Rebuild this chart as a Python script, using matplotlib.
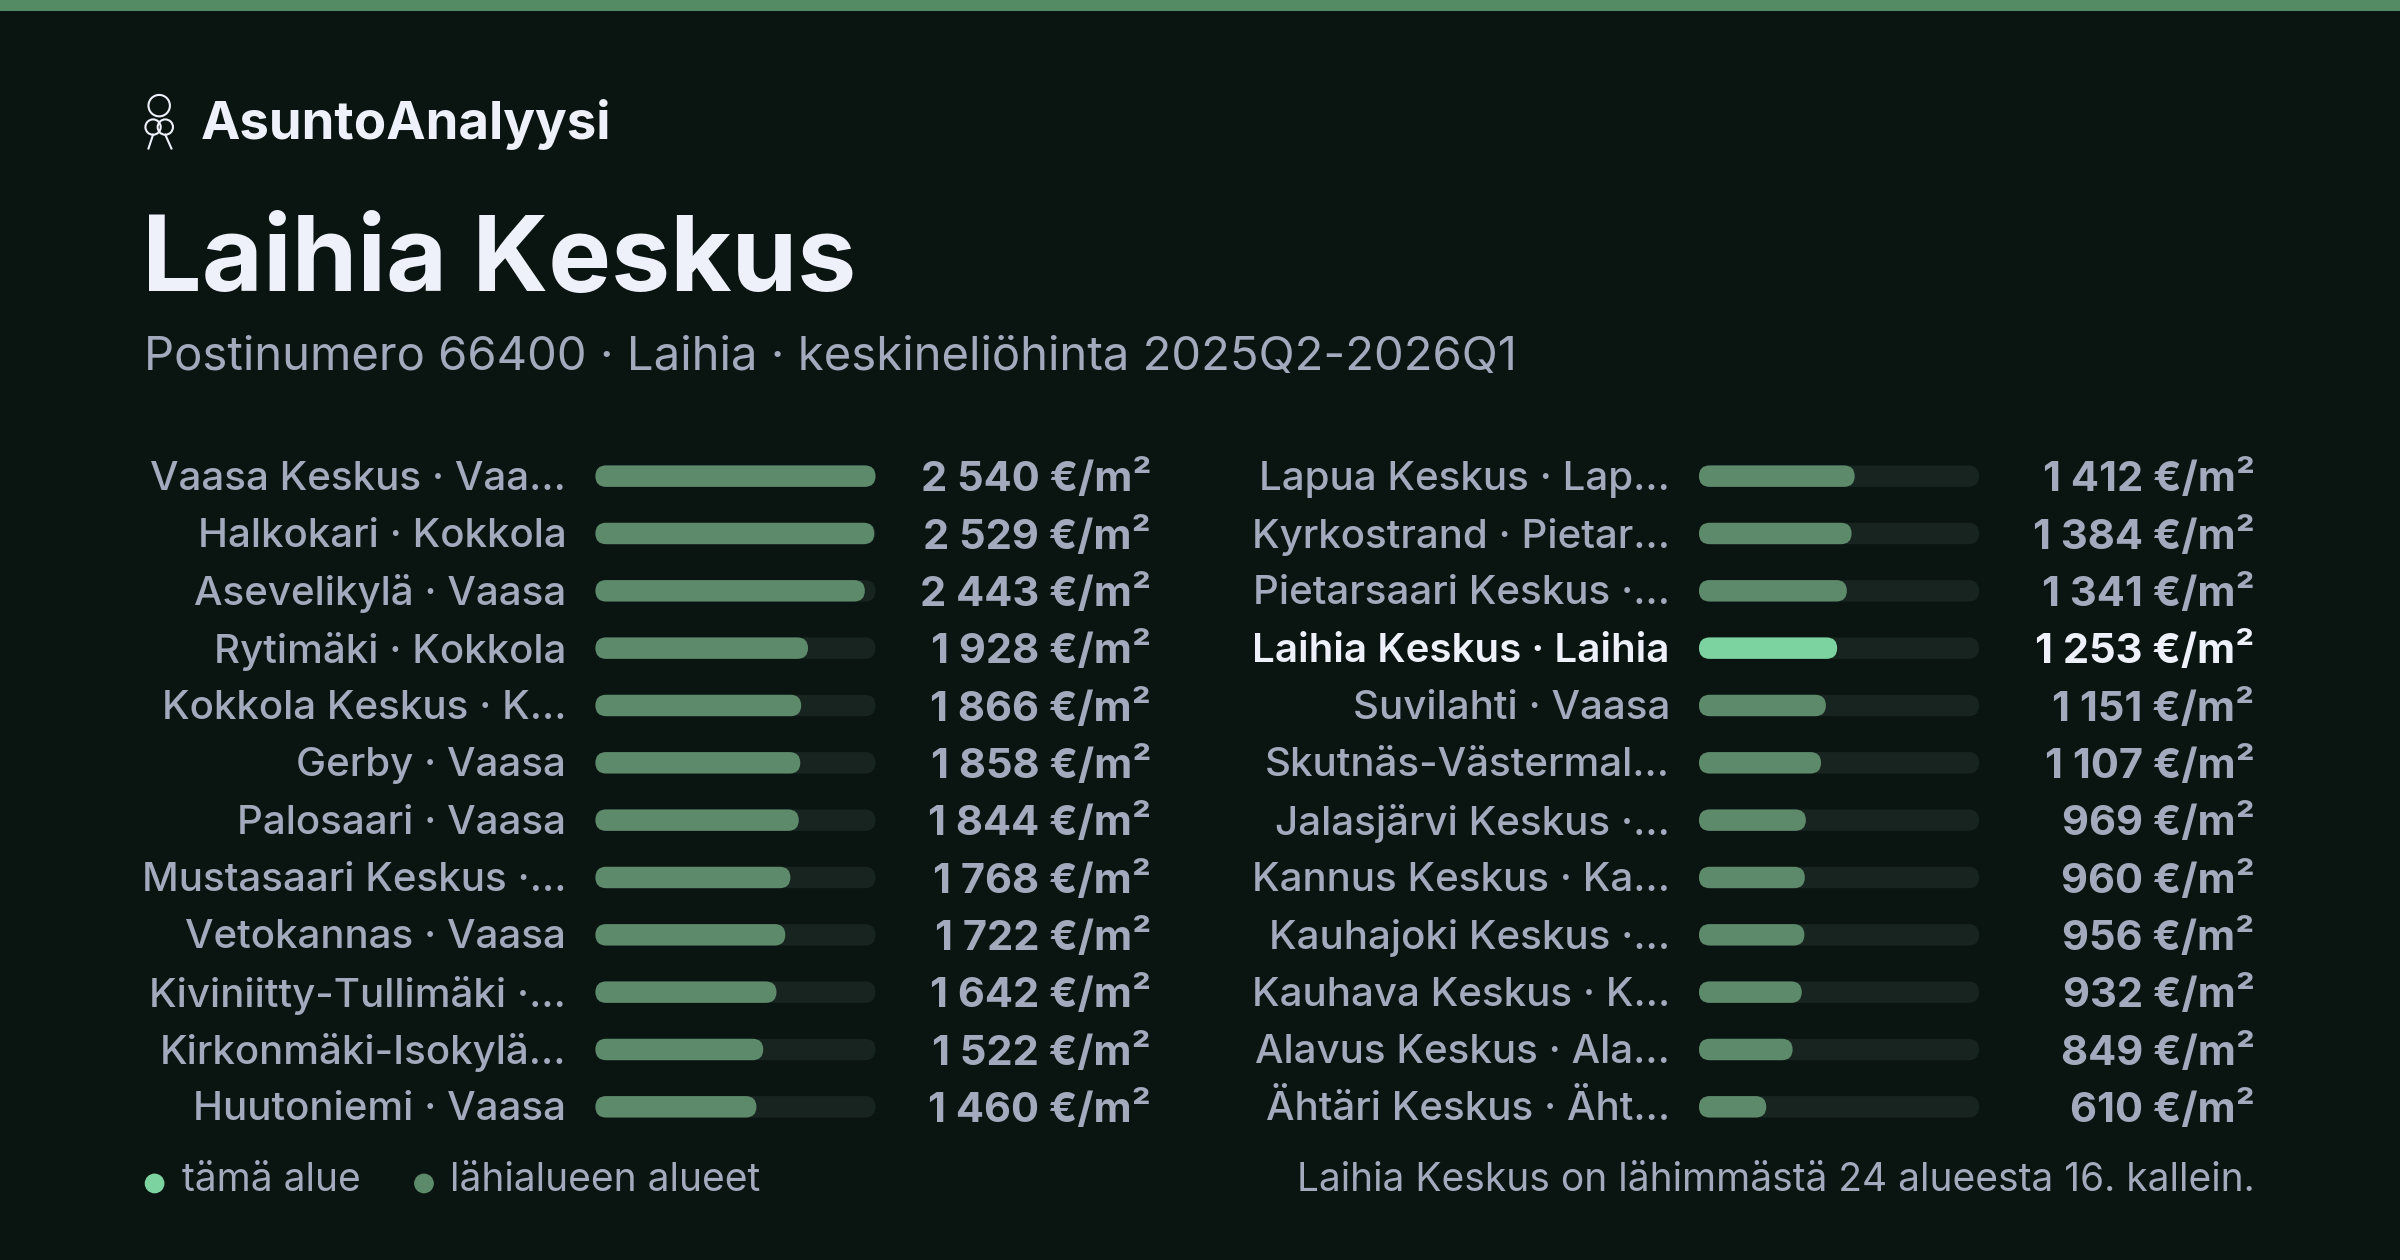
import matplotlib
matplotlib.use('Agg')
import matplotlib.pyplot as plt
from matplotlib.patches import FancyBboxPatch, Rectangle, Circle

plt.rcParams['font.family'] = ['Inter', 'DejaVu Sans']

# Data
left_names = ["Vaasa Keskus · Vaa…", "Halkokari · Kokkola", "Asevelikylä · Vaasa", "Rytimäki · Kokkola",
              "Kokkola Keskus · K…", "Gerby · Vaasa", "Palosaari · Vaasa", "Mustasaari Keskus ·…",
              "Vetokannas · Vaasa", "Kiviniitty-Tullimäki ·…", "Kirkonmäki-Isokylä…", "Huutoniemi · Vaasa"]
left_values = [2540, 2529, 2443, 1928, 1866, 1858, 1844, 1768, 1722, 1642, 1522, 1460]
right_names = ["Lapua Keskus · Lap…", "Kyrkostrand · Pietar…", "Pietarsaari Keskus ·…", "Laihia Keskus · Laihia",
               "Suvilahti · Vaasa", "Skutnäs-Västermal…", "Jalasjärvi Keskus ·…", "Kannus Keskus · Ka…",
               "Kauhajoki Keskus ·…", "Kauhava Keskus · K…", "Alavus Keskus · Ala…", "Ähtäri Keskus · Äht…"]
right_values = [1412, 1384, 1341, 1253, 1151, 1107, 969, 960, 956, 932, 849, 610]
highlight = "Laihia Keskus · Laihia"

BG = "#0a1411"
TOP = "#548a64"
BAR = "#5e8a6c"
HI = "#7dd3a0"
TRACK = "#17241f"
GRAY = "#a3aabd"
WHITE = "#eef0fa"

W, H = 1568, 823
fig = plt.figure(figsize=(24, 12.6), dpi=100, facecolor=BG)
ax = fig.add_axes([0, 0, 1, 1])
ax.set_xlim(0, W)
ax.set_ylim(H, 0)
ax.axis('off')
ax.set_facecolor(BG)

ax.add_patch(Rectangle((0, 0), W, 7, color=TOP, lw=0))

# key icon
for (cx, cy, r) in [(104, 69, 7), (100, 83, 5), (108, 83, 5)]:
    ax.add_patch(Circle((cx, cy), r, fill=False, ec=WHITE, lw=1.5))
ax.plot([100, 97], [88, 97], color=WHITE, lw=1.5)
ax.plot([108, 112], [88, 97], color=WHITE, lw=1.5)
ax.text(131, 81, "AsuntoAnalyysi", color=WHITE, fontsize=38, fontweight='bold', va='center', ha='left')

ax.text(93, 172, "Laihia Keskus", color=WHITE, fontsize=76, fontweight='bold', va='center', ha='left')
ax.text(94, 234, "Postinumero 66400 · Laihia · keskineliöhinta 2025Q2-2026Q1", color=GRAY,
        fontsize=34, va='center', ha='left')

vmax = max(left_values)
y0, step = 311, 37.45
bw, bh = 183, 14


def fmt(v):
    s = f"{v:,}".replace(",", " ")
    return s + " €/m²"


def column(names, values, label_x, bar_x, val_x):
    for i, (n, v) in enumerate(zip(names, values)):
        y = y0 + i * step
        hi = n == highlight
        tc = WHITE if hi else GRAY
        fw = 'semibold' if hi else 'medium'
        ax.text(label_x, y + 2, n, color=tc, fontsize=29, ha='right', va='center', fontweight=fw)
        ax.add_patch(FancyBboxPatch((bar_x, y - bh / 2), bw, bh,
                                    boxstyle=f"round,pad=0,rounding_size={bh/2}", fc=TRACK, ec='none'))
        ax.add_patch(FancyBboxPatch((bar_x, y - bh / 2), bw * v / vmax, bh,
                                    boxstyle=f"round,pad=0,rounding_size={bh/2}", fc=HI if hi else BAR, ec='none'))
        ax.text(val_x, y + 2, fmt(v), color=tc, fontsize=30, ha='right', va='center', fontweight='bold')


column(left_names, left_values, 370, 389, 752)
column(right_names, right_values, 1091, 1110, 1473)

ax.add_patch(Circle((101, 773), 6, color=HI))
ax.text(119, 771, "tämä alue", color=GRAY, fontsize=28, va='center', ha='left')
ax.add_patch(Circle((277, 773), 6, color=BAR))
ax.text(294, 771, "lähialueen alueet", color=GRAY, fontsize=28, va='center', ha='left')
ax.text(1473, 771, "Laihia Keskus on lähimmästä 24 alueesta 16. kallein.", color=GRAY,
        fontsize=28, va='center', ha='right')

fig.savefig("out.png", dpi=100, facecolor=BG)
